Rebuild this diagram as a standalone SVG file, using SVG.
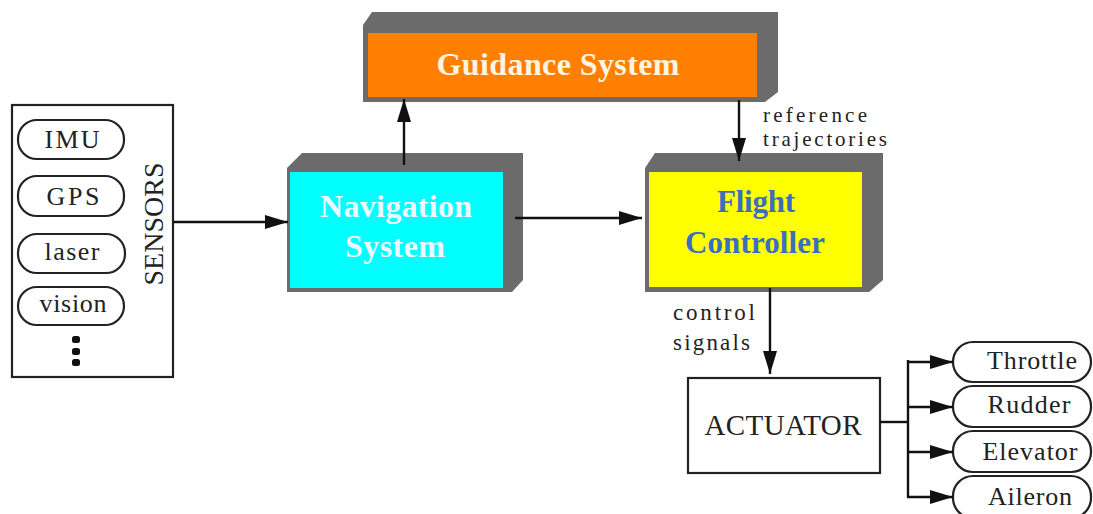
<svg xmlns="http://www.w3.org/2000/svg" width="1093" height="514" viewBox="0 0 1093 514">
<style>
.t{font-family:"Liberation Serif","Times New Roman",serif;fill:#222}
.b{font-family:"Liberation Serif","Times New Roman",serif;font-weight:bold}
.pill{fill:#fff;stroke:#222;stroke-width:2.2}
.box{fill:#fff;stroke:#222;stroke-width:2.2}
.shade{fill:#6b6b6b}
.ln{stroke:#111;stroke-width:2.4;fill:none}
</style>
<defs>
<marker id="ah" markerUnits="userSpaceOnUse" markerWidth="24" markerHeight="16" refX="23" refY="7" orient="auto">
<path d="M0,0 L23,7 L0,14 z" fill="#111"/>
</marker>
</defs>
<rect width="1093" height="514" fill="#fff"/>

<g id="sensors">
<rect class="box" x="12" y="105" width="161" height="272"/>
<rect class="pill" x="18" y="120" width="106" height="39" rx="19"/>
<text class="t" x="72" y="148" font-size="26" text-anchor="middle" textLength="55">IMU</text>
<rect class="pill" x="18" y="176" width="106" height="40" rx="19"/>
<text class="t" x="73" y="205" font-size="26" text-anchor="middle" textLength="53">GPS</text>
<rect class="pill" x="18" y="234" width="107" height="39" rx="19"/>
<text class="t" x="72" y="260" font-size="26" text-anchor="middle" textLength="55">laser</text>
<rect class="pill" x="18" y="287" width="106" height="38" rx="19"/>
<text class="t" x="73" y="312" font-size="26" text-anchor="middle" textLength="67">vision</text>
<rect x="72" y="336" width="8" height="7" rx="2.5" fill="#111"/>
<rect x="72" y="348" width="8" height="7" rx="2.5" fill="#111"/>
<rect x="72" y="359" width="8" height="7" rx="2.5" fill="#111"/>
<text class="t" transform="translate(163,224) rotate(-90)" x="0" y="0" font-size="28" text-anchor="middle" textLength="123">SENSORS</text>
</g>

<g id="navigation">
<polygon class="shade" points="287,168 302,153 523,153 523,280 512,292 287,292"/>
<rect x="290" y="172" width="213" height="116" fill="#00ffff"/>
<text class="b" x="396" y="217" font-size="32" fill="#eef6ff" text-anchor="middle" textLength="152">Navigation</text>
<text class="b" x="395" y="257" font-size="32" fill="#eef6ff" text-anchor="middle" textLength="100">System</text>
</g>

<g id="guidance">
<polygon class="shade" points="363,25 372,12 778,12 778,92 765,102 363,102"/>
<rect x="368" y="33" width="389" height="64" fill="#ff7f00"/>
<text class="b" x="558" y="75" font-size="32" fill="#fff4e0" text-anchor="middle" textLength="243">Guidance System</text>
</g>

<g id="flight">
<polygon class="shade" points="645,168 655,153 883,153 883,280 869,292 645,292"/>
<rect x="649" y="172" width="213" height="115" fill="#ffff00"/>
<text class="b" x="756" y="212" font-size="31" fill="#3a6fbf" text-anchor="middle" textLength="78">Flight</text>
<text class="b" x="755" y="253" font-size="31" fill="#3a6fbf" text-anchor="middle" textLength="140">Controller</text>
</g>

<g id="actuator">
<rect class="box" x="688" y="378" width="192" height="95"/>
<text class="t" x="783" y="435" font-size="29" text-anchor="middle" textLength="157">ACTUATOR</text>
</g>

<g id="throttle">
<rect class="pill" x="953" y="342" width="138" height="40" rx="20"/>
<text class="t" x="1032" y="369" font-size="26" text-anchor="middle" textLength="90">Throttle</text>
</g>
<g id="rudder">
<rect class="pill" x="953" y="386" width="138" height="41" rx="20"/>
<text class="t" x="1029" y="413" font-size="26" text-anchor="middle" textLength="83">Rudder</text>
</g>
<g id="elevator">
<rect class="pill" x="953" y="431" width="138" height="41" rx="20"/>
<text class="t" x="1030" y="460" font-size="26" text-anchor="middle" textLength="95">Elevator</text>
</g>
<g id="aileron">
<rect class="pill" x="953" y="476" width="138" height="42" rx="20"/>
<text class="t" x="1030" y="505" font-size="26" text-anchor="middle" textLength="84">Aileron</text>
</g>

<g id="connectors">
<line class="ln" x1="173" y1="222" x2="288" y2="222" marker-end="url(#ah)"/>
<line class="ln" x1="404" y1="165" x2="404" y2="99" marker-end="url(#ah)"/>
<line class="ln" x1="515" y1="218" x2="642" y2="218" marker-end="url(#ah)"/>
<line class="ln" x1="739" y1="100" x2="739" y2="161" marker-end="url(#ah)"/>
<line class="ln" x1="770" y1="288" x2="770" y2="374" marker-end="url(#ah)"/>
<line class="ln" x1="880" y1="422" x2="908" y2="422"/>
<line class="ln" x1="908" y1="360" x2="908" y2="498"/>
<line class="ln" x1="907" y1="362" x2="953" y2="362" marker-end="url(#ah)"/>
<line class="ln" x1="907" y1="407" x2="953" y2="407" marker-end="url(#ah)"/>
<line class="ln" x1="907" y1="452" x2="953" y2="452" marker-end="url(#ah)"/>
<line class="ln" x1="907" y1="497" x2="953" y2="497" marker-end="url(#ah)"/>
<text class="t" x="763" y="122" font-size="21" textLength="104">reference</text>
<text class="t" x="763" y="146" font-size="21" textLength="124">trajectories</text>
<text class="t" x="673" y="320" font-size="23" textLength="82">control</text>
<text class="t" x="673" y="350" font-size="23" textLength="77">signals</text>
</g>
</svg>
